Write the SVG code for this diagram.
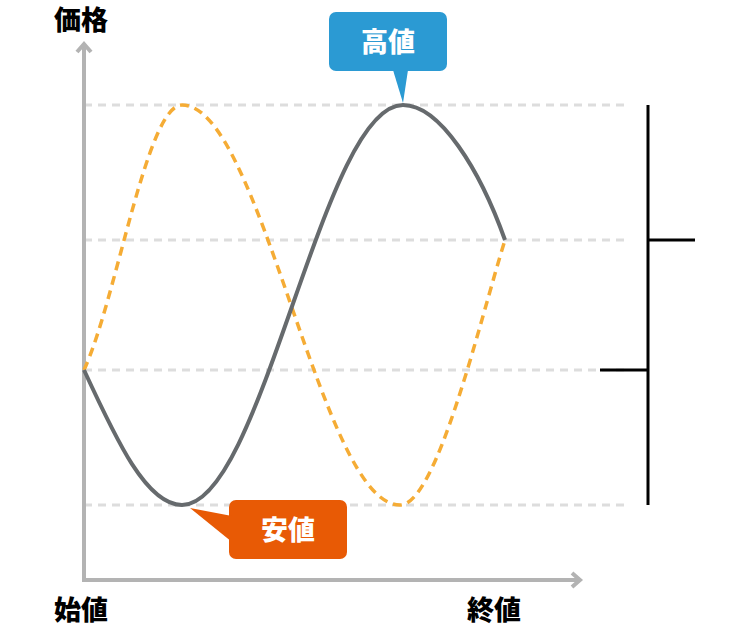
<svg xmlns="http://www.w3.org/2000/svg" width="750" height="628" viewBox="0 0 750 628">
<style>
.t{font-family:"Noto Sans CJK JP",sans-serif;font-weight:900;font-size:27px}
.grid{stroke:#dddddd;stroke-width:3;stroke-dasharray:8,6;fill:none}
.axis{stroke:#b3b3b3;stroke-width:4;fill:none}
</style>
<rect width="750" height="628" fill="#fff"/>
<g id="grid">
<line class="grid" x1="84" y1="105" x2="624" y2="105"/>
<line class="grid" x1="84" y1="240" x2="624" y2="240"/>
<line class="grid" x1="84" y1="370" x2="624" y2="370"/>
<line class="grid" x1="84" y1="505" x2="624" y2="505"/>
</g>
<g id="axes">
<path class="axis" d="M84,44 V580 H580"/>
<path class="axis" d="M77,52 L84,44 L91,52"/>
<path class="axis" d="M572,573 L580,580 L572,587"/>
</g>
<g id="connectors">
<path d="M84,370 C116.7,299 146.7,105 182,105 C221,105 254.5,200 291,305 C327.4,410 360.8,505 400,505 C437,505 480,320 505,240" fill="none" stroke="#f5ac35" stroke-width="3.5" stroke-dasharray="9,6"/>
<path d="M84,370 C116.7,441 146.7,505 182,505 C221.8,505 255.6,410 292.5,305 C329.4,200 363.2,105 403,105 C440,105 480,170 505,240" fill="none" stroke="#666a6d" stroke-width="4"/>
</g>
<g id="scale" stroke="#000" stroke-width="3">
<line x1="648" y1="105" x2="648" y2="505"/>
<line x1="648" y1="240" x2="695" y2="240"/>
<line x1="600" y1="370" x2="648" y2="370"/>
</g>
<g id="high">
<rect x="329" y="12" width="118" height="59" rx="7" fill="#2b9ad3"/>
<path d="M393,70 L403,103 L408,70 Z" fill="#2b9ad3"/>
<text class="t" x="388" y="52" fill="#fff" text-anchor="middle">高値</text>
</g>
<g id="low">
<rect x="229" y="500" width="118" height="59" rx="7" fill="#e85a05"/>
<path d="M232,516 L190,508 L232,542 Z" fill="#e85a05"/>
<text class="t" x="288" y="540" fill="#fff" text-anchor="middle">安値</text>
</g>
<g id="labels">
<text class="t" x="54" y="30">価格</text>
<text class="t" x="54" y="620">始値</text>
<text class="t" x="467" y="620">終値</text>
</g>
</svg>
